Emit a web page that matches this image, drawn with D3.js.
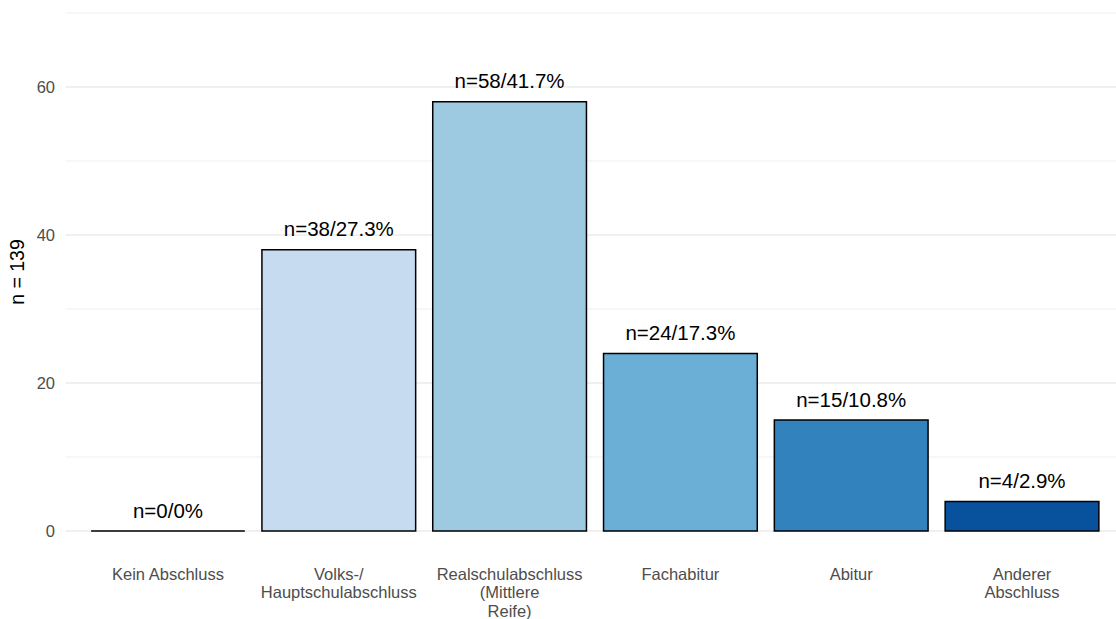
<!DOCTYPE html>
<html>
<head>
<meta charset="utf-8">
<script src="https://cdn.jsdelivr.net/npm/d3@7"></script>
<style>
  html, body { margin: 0; padding: 0; background: #fff; }
  svg { display: block; }
</style>
</head>
<body>
<svg id="chart" width="1116" height="619"></svg>
<script>
const categories = [
  ["Kein Abschluss"],
  ["Volks-/", "Hauptschulabschluss"],
  ["Realschulabschluss", "(Mittlere", "Reife)"],
  ["Fachabitur"],
  ["Abitur"],
  ["Anderer", "Abschluss"]
];
const counts = [0, 38, 58, 24, 15, 4];
const barLabels = ["n=0/0%", "n=38/27.3%", "n=58/41.7%", "n=24/17.3%", "n=15/10.8%", "n=4/2.9%"];
const colors = ["#eff3ff", "#c6dbef", "#9ecae1", "#6baed6", "#3182bd", "#08519c"];
const majorTicks = [0, 20, 40, 60];
const minorTicks = [10, 30, 50, 70];
const yTitle = "n = 139";

const svg = d3.select("#chart");
const font = "'Liberation Sans', Arial, sans-serif";

const keys = categories.map((c, i) => i);
const x = d3.scaleBand().domain(keys).range([65.5, 1124.5]).paddingInner(0.1).paddingOuter(0.15);
const y = d3.scaleLinear().domain([0, 70]).range([531, 13]);

const gridX0 = 65.5, gridX1 = 1124.5;

// minor gridlines
svg.append("g").selectAll("line").data(minorTicks).join("line")
  .attr("x1", gridX0).attr("x2", gridX1)
  .attr("y1", d => y(d)).attr("y2", d => y(d))
  .attr("stroke", "#ebebeb").attr("stroke-width", 0.8);
// major gridlines
svg.append("g").selectAll("line").data(majorTicks).join("line")
  .attr("x1", gridX0).attr("x2", gridX1)
  .attr("y1", d => y(d)).attr("y2", d => y(d))
  .attr("stroke", "#ebebeb").attr("stroke-width", 1.4);

// y tick labels
svg.append("g").selectAll("text").data(majorTicks).join("text")
  .attr("x", 55).attr("y", d => y(d)).attr("dy", "0.36em")
  .attr("text-anchor", "end")
  .attr("font-family", font).attr("font-size", 16.5).attr("fill", "#4d4d4d")
  .text(d => d);

// y title
svg.append("text")
  .attr("transform", "translate(24,272) rotate(-90)")
  .attr("text-anchor", "middle")
  .attr("font-family", font).attr("font-size", 19.5).attr("fill", "#000")
  .text(yTitle);

// bars (paths so a zero-height bar still shows its outline)
svg.append("g").selectAll("path").data(keys).join("path")
  .attr("d", i => {
    const x0 = x(i), x1 = x(i) + x.bandwidth();
    const y0 = y(0), y1 = y(counts[i]);
    return `M${x0},${y0}H${x1}V${y1}H${x0}Z`;
  })
  .attr("fill", i => colors[i])
  .attr("stroke", "#000").attr("stroke-width", 1.5);

// bar labels
svg.append("g").selectAll("text").data(keys).join("text")
  .attr("x", i => x(i) + x.bandwidth() / 2)
  .attr("y", i => y(counts[i]) - 13.5)
  .attr("text-anchor", "middle")
  .attr("font-family", font).attr("font-size", 20.5).attr("fill", "#000")
  .text(i => barLabels[i]);

// x tick labels
const xl = svg.append("g").selectAll("text").data(keys).join("text")
  .attr("x", i => x(i) + x.bandwidth() / 2)
  .attr("y", 580)
  .attr("text-anchor", "middle")
  .attr("font-family", font).attr("font-size", 16.5).attr("fill", "#4d4d4d");
xl.each(function(i) {
  const t = d3.select(this);
  categories[i].forEach((line, k) => {
    t.append("tspan").attr("x", x(i) + x.bandwidth() / 2)
      .attr("dy", k === 0 ? 0 : 18.3).text(line);
  });
});
</script>
</body>
</html>
